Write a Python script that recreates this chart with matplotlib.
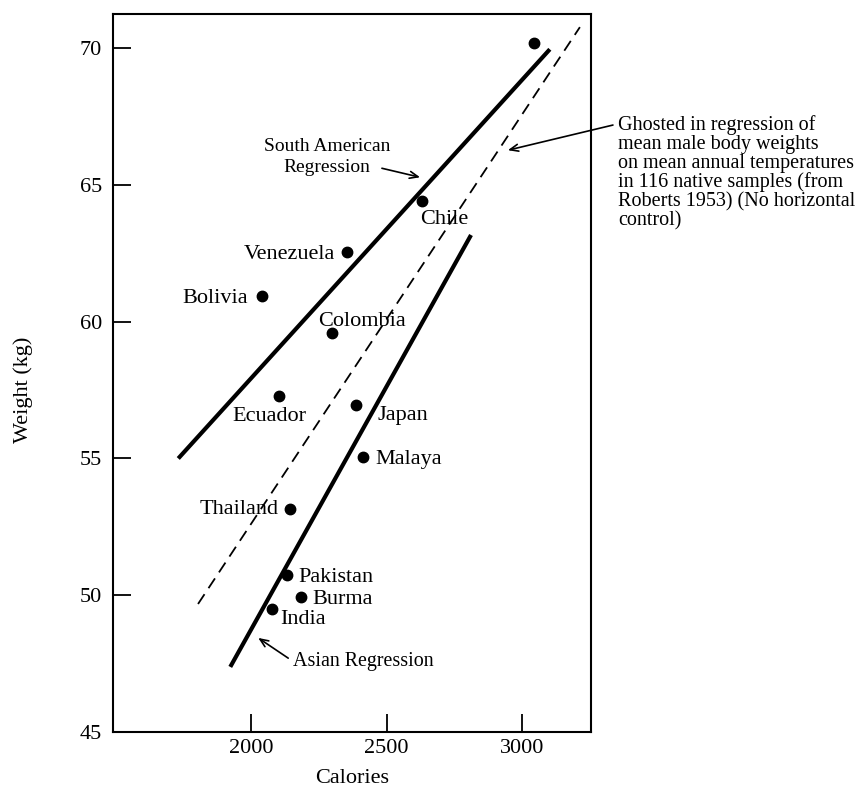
import matplotlib
matplotlib.use("Agg")
import matplotlib.pyplot as plt

plt.rcParams['font.family'] = ['Liberation Serif', 'DejaVu Serif']

# Mean male calories intake vs mean body weight
countries = ["", "Chile", "Venezuela", "Bolivia", "Colombia", "Ecuador",
             "Japan", "Malaya", "Thailand", "Pakistan", "Burma", "India"]
calories = [3044, 2631, 2354, 2041, 2299, 2103, 2387, 2413, 2144, 2133, 2185, 2077]
weights = [70.2, 64.4, 62.55, 60.95, 59.6, 57.3, 56.95, 55.05, 53.15, 50.75, 49.95, 49.5]

# label offsets (pixels) and alignment for each point
label_dx = [0, -2, -12, -14, -14, -47, 22, 12, -12, 11, 11, 8]
label_dy = [0, -16, 0, 0, 14, -18, -8, 0, 2, 0, 0, -8]
label_ha = ["left", "left", "right", "right", "left", "left",
            "left", "left", "right", "left", "left", "left"]

# regression lines (end points)
sa_cal = [1731, 3103]
sa_kg = [55.0, 69.96]
asia_cal = [1923, 2812]
asia_kg = [47.38, 63.17]
ghost_cal = [1804, 3214]
ghost_kg = [49.68, 70.77]

fig = plt.figure(figsize=(8.58, 7.89), dpi=100)
ax = fig.add_axes([113 / 858, 57 / 789, 478 / 858, 718 / 789])

ax.plot(sa_cal, sa_kg, color='black', lw=3, solid_capstyle='butt')
ax.plot(asia_cal, asia_kg, color='black', lw=3, solid_capstyle='butt')
ax.plot(ghost_cal, ghost_kg, color='black', lw=1.3, dashes=(6.5, 4))
ax.plot(calories, weights, 'o', color='black', ms=7.5, ls='none')

for name, c, w, dx, dy, ha in zip(countries, calories, weights, label_dx, label_dy, label_ha):
    if name:
        ax.annotate(name, (c, w), xytext=(dx, dy), textcoords='offset pixels',
                    ha=ha, va='center_baseline', fontsize=16)

arrow = dict(arrowstyle='->,head_length=0.6,head_width=0.25', color='black', lw=1.2,
             shrinkA=0, shrinkB=0)

# South American regression label
ax.text(2280, 66.02, "South American\nRegression", ha='center', va='center',
        fontsize=14, linespacing=1.25)
ax.annotate('', xy=(2624, 65.28), xytext=(2483, 65.61), arrowprops=arrow)

# Asian regression label
ax.text(2155, 47.56, "Asian Regression", ha='left', va='center', fontsize=14.4)
ax.annotate('', xy=(2026, 48.44), xytext=(2137, 47.7), arrowprops=arrow)

# note on the dashed line
ax.text(3354, 67.55, "Ghosted in regression of\nmean male body weights\n"
        "on mean annual temperatures\nin 116 native samples (from\n"
        "Roberts 1953) (No horizontal\ncontrol)",
        ha='left', va='top', fontsize=14.5, linespacing=0.98, clip_on=False)
ax.annotate('', xy=(2948, 66.27), xytext=(3336, 67.19), arrowprops=arrow,
            annotation_clip=False)

ax.set_xlim(1490, 3255)
ax.set_ylim(45, 71.25)
ax.set_xticks([2000, 2500, 3000])
ax.set_yticks([45, 50, 55, 60, 65, 70])
ax.tick_params(direction='in', length=13, width=1.3, labelsize=16)
ax.tick_params(axis='x', pad=5)
ax.tick_params(axis='y', pad=8)
for s in ax.spines.values():
    s.set_linewidth(1.5)

ax.set_xlabel("Calories", fontsize=16, labelpad=8)
ax.set_ylabel("Weight (kg)", fontsize=16)
ax.yaxis.set_label_coords(-0.167, 0.476)

fig.savefig("out.png", dpi=100)
